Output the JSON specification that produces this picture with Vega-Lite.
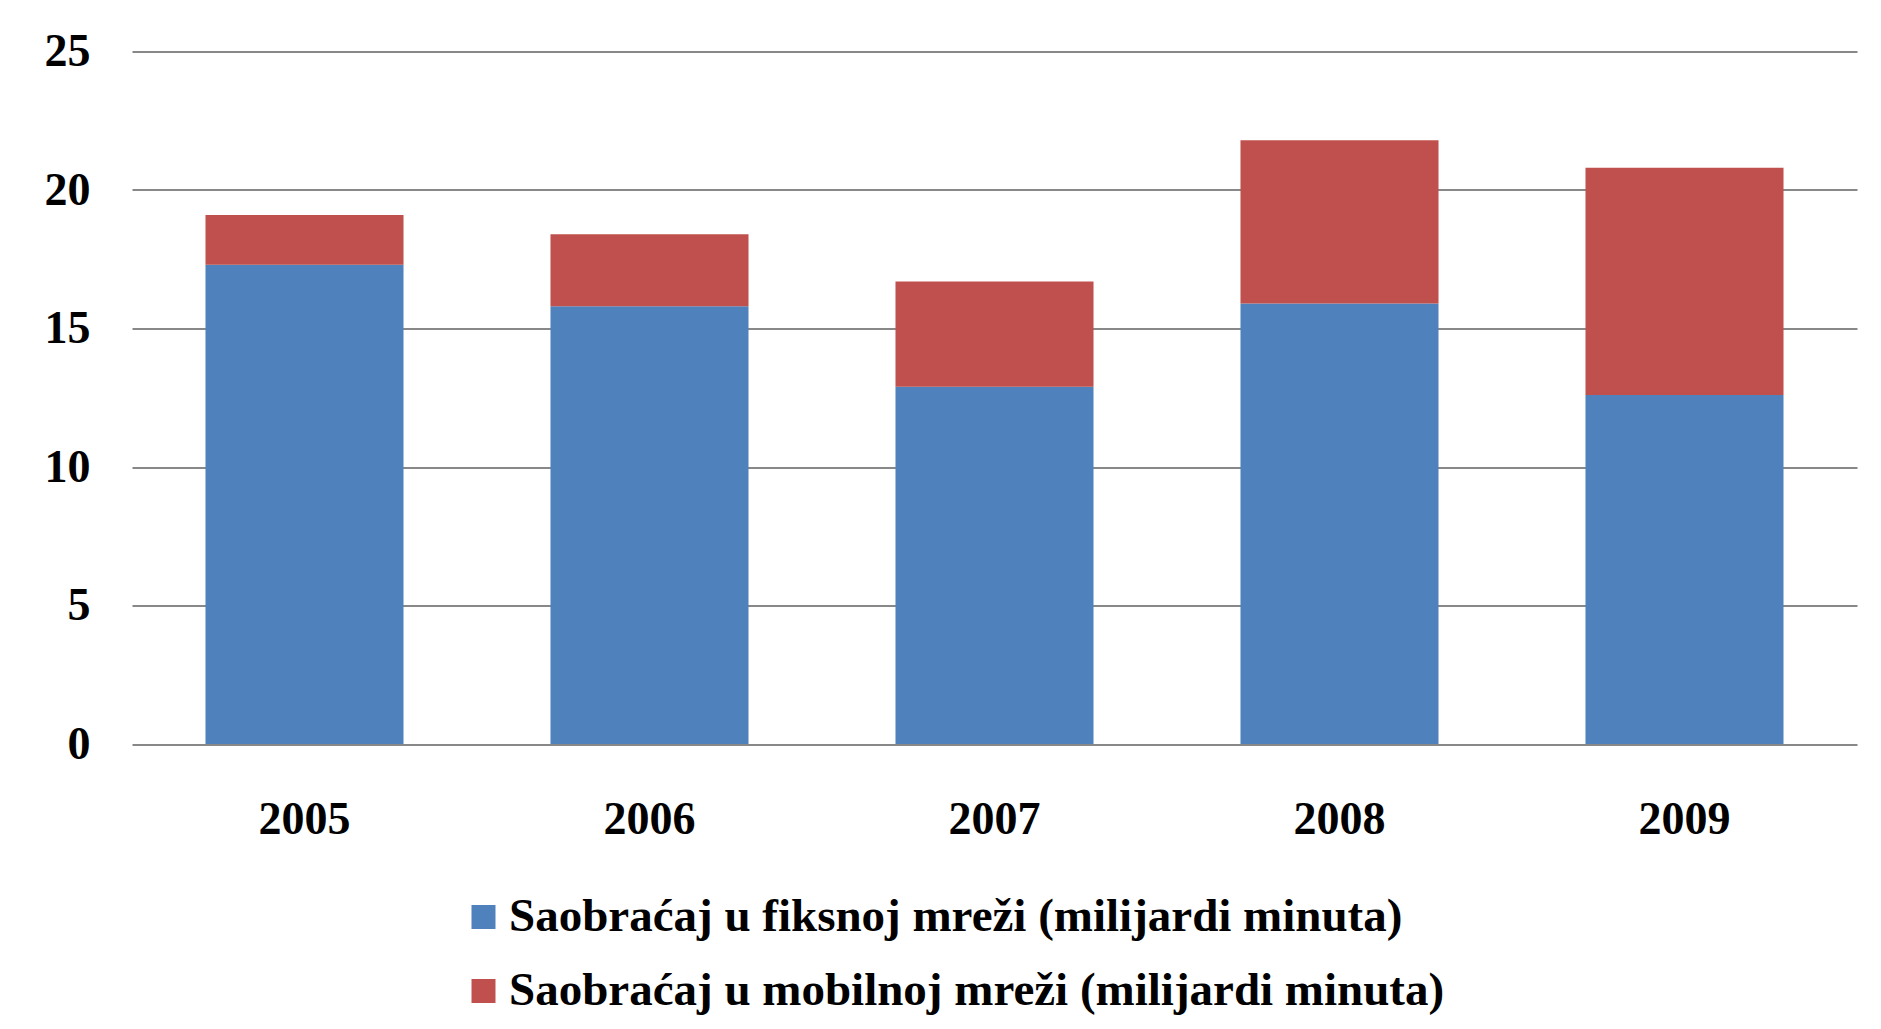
{
  "$schema": "https://vega.github.io/schema/vega-lite/v6.json",
  "autosize": {"type": "none"},
  "width": 1725,
  "height": 692.5,
  "padding": {"left": 132, "top": 51.5, "right": 24, "bottom": 285},
  "background": "white",
  "data": {
    "values": [
      {"year": "2005", "series": "Saobraćaj u fiksnoj mreži (milijardi minuta)", "value": 17.3},
      {"year": "2005", "series": "Saobraćaj u mobilnoj mreži (milijardi minuta)", "value": 1.8},
      {"year": "2006", "series": "Saobraćaj u fiksnoj mreži (milijardi minuta)", "value": 15.8},
      {"year": "2006", "series": "Saobraćaj u mobilnoj mreži (milijardi minuta)", "value": 2.6},
      {"year": "2007", "series": "Saobraćaj u fiksnoj mreži (milijardi minuta)", "value": 12.9},
      {"year": "2007", "series": "Saobraćaj u mobilnoj mreži (milijardi minuta)", "value": 3.8},
      {"year": "2008", "series": "Saobraćaj u fiksnoj mreži (milijardi minuta)", "value": 15.9},
      {"year": "2008", "series": "Saobraćaj u mobilnoj mreži (milijardi minuta)", "value": 5.9},
      {"year": "2009", "series": "Saobraćaj u fiksnoj mreži (milijardi minuta)", "value": 12.6},
      {"year": "2009", "series": "Saobraćaj u mobilnoj mreži (milijardi minuta)", "value": 8.2}
    ]
  },
  "mark": {"type": "bar"},
  "encoding": {
    "x": {
      "field": "year", "type": "nominal", "title": null,
      "scale": {"paddingInner": 0.426, "paddingOuter": 0.213},
      "axis": {"labelAngle": 0, "ticks": false, "domain": false, "labelPadding": 53, "labelFontSize": 46, "labelFont": "Liberation Serif", "labelFontWeight": "bold", "labelColor": "#000000"}
    },
    "y": {
      "field": "value", "type": "quantitative", "aggregate": "sum", "stack": "zero", "title": null,
      "scale": {"domain": [0, 25]},
      "axis": {"values": [0, 5, 10, 15, 20, 25], "ticks": false, "domain": false, "grid": true, "gridColor": "#888888", "gridWidth": 2, "labelPadding": 42, "labelFontSize": 46, "labelFont": "Liberation Serif", "labelFontWeight": "bold", "labelColor": "#000000", "minExtent": 88, "maxExtent": 88}
    },
    "order": {"field": "series", "type": "nominal", "sort": "ascending"},
    "color": {
      "field": "series", "type": "nominal",
      "scale": {"range": ["#4F81BD", "#C0504D"]},
      "legend": {"title": null, "orient": "none", "legendX": 328, "legendY": 842, "direction": "vertical", "symbolType": "square", "symbolSize": 576, "symbolStrokeWidth": 0, "labelFontSize": 47, "labelFont": "Liberation Serif", "labelFontWeight": "bold", "labelColor": "#000000", "labelOffset": 2, "rowPadding": 26, "labelLimit": 2000, "padding": 0}
    }
  },
  "config": {"view": {"stroke": null}}
}
